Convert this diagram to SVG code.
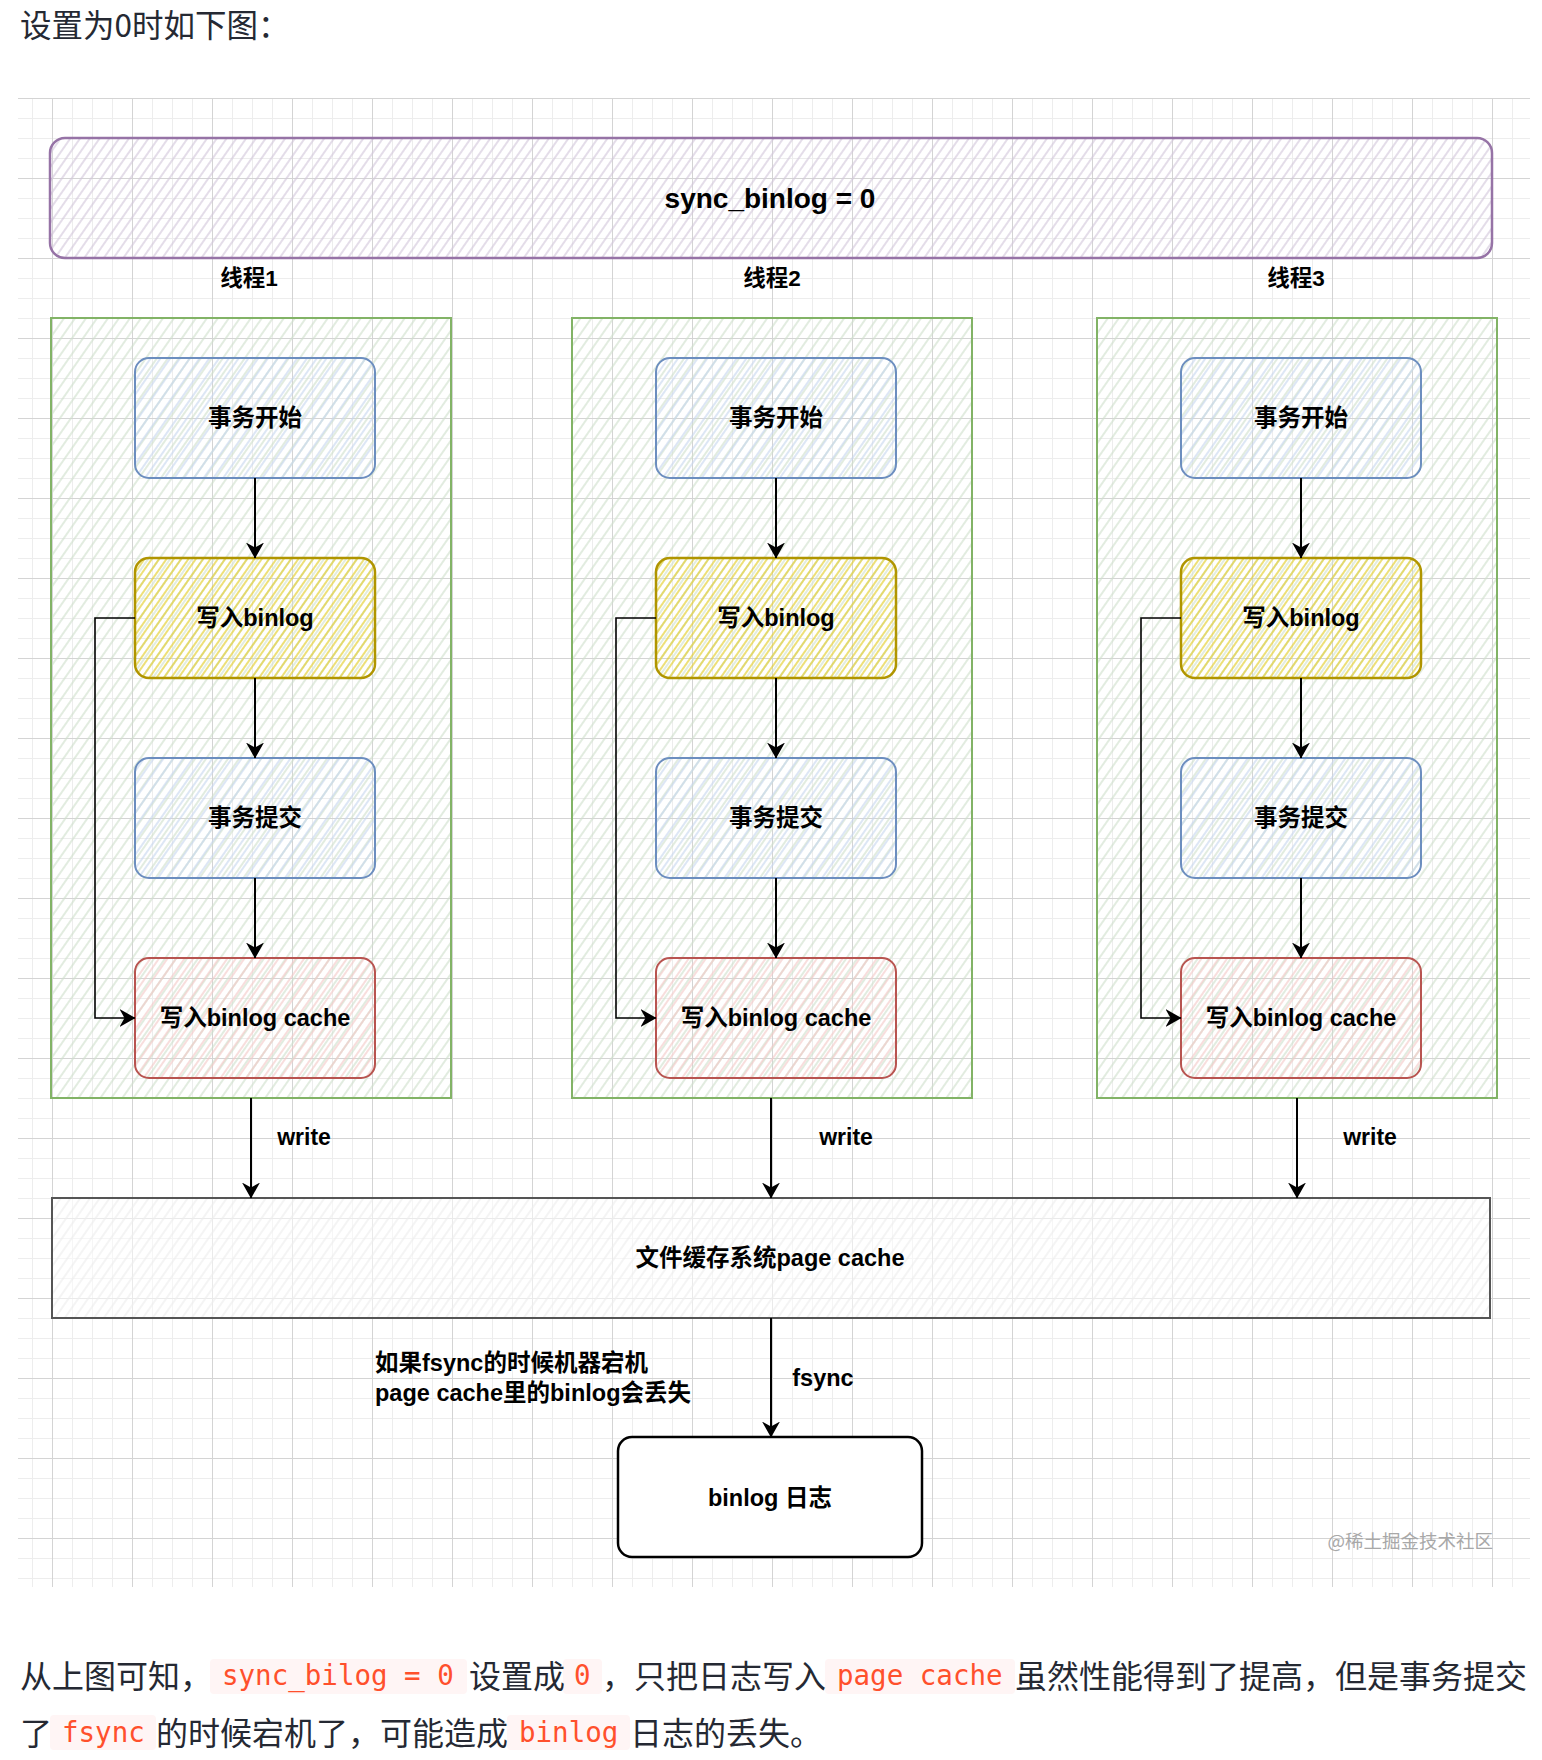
<svg xmlns="http://www.w3.org/2000/svg" width="1542" height="1760" viewBox="0 0 1542 1760">
<defs>
<style>
.body{font-family:"Noto Sans CJK SC","Noto Sans",sans-serif;font-size:32px;fill:#252933}
.code{font-family:"DejaVu Sans Mono","Liberation Mono",monospace;font-size:27.5px;fill:#ff502c}
.codebg{fill:#fff5f5}
.lbl{font-family:"Liberation Sans","Noto Sans CJK SC",sans-serif;font-weight:bold;font-size:23.5px;fill:#000}
.mid{text-anchor:middle}
.box{stroke-width:2}
.conn{fill:none;stroke:#000;stroke-width:2}
.loop{fill:none;stroke:#000;stroke-width:1.6}
</style>
<pattern id="gMinor" patternUnits="userSpaceOnUse" x="12" y="18" width="20" height="20">
<path d="M0.5 0V20M0 0.5H20" stroke="#ededed" stroke-width="1" fill="none"/>
</pattern>
<pattern id="gMajor" patternUnits="userSpaceOnUse" x="52" y="98" width="80" height="80">
<path d="M0.5 0V80M0 0.5H80" stroke="#d4d4d4" stroke-width="1" fill="none"/>
</pattern>
<pattern id="hPurple" patternUnits="userSpaceOnUse" width="8" height="20" patternTransform="rotate(35)">
<path d="M1 0V20" stroke="#d2c6da" stroke-width="1.2"/>
</pattern>
<pattern id="hGreen" patternUnits="userSpaceOnUse" width="9" height="20" patternTransform="rotate(35)">
<path d="M1 0V20" stroke="#cfdfcb" stroke-width="1.2"/>
</pattern>
<pattern id="hBlue" patternUnits="userSpaceOnUse" width="8" height="20" patternTransform="rotate(35)">
<path d="M1 0V20" stroke="#c6d6ee" stroke-width="1.2"/>
</pattern>
<pattern id="hYellow" patternUnits="userSpaceOnUse" width="6" height="20" patternTransform="rotate(35)">
<path d="M1 0V20" stroke="#e3cf30" stroke-width="1.3"/>
</pattern>
<pattern id="hRed" patternUnits="userSpaceOnUse" width="7" height="20" patternTransform="rotate(35)">
<path d="M1 0V20" stroke="#f3c8c6" stroke-width="1.2"/>
</pattern>
<pattern id="hGray" patternUnits="userSpaceOnUse" width="8" height="20" patternTransform="rotate(35)">
<path d="M1 0V20" stroke="#ececec" stroke-width="1.2"/>
</pattern>
<marker id="arr" viewBox="0 0 16 18" refX="15.5" refY="9" markerWidth="16" markerHeight="18" markerUnits="userSpaceOnUse" orient="auto">
<path d="M0,0 L16,9 L0,18 L5,9 Z" fill="#000"/>
</marker>
</defs>

<rect x="0" y="0" width="1542" height="1760" fill="#fff"/>

<g id="page-title">
<text class="body" x="20" y="37" style="font-size:31.5px">设置为0时如下图：</text>
</g>

<g id="grid">
<rect x="18" y="98" width="1512" height="1489" fill="url(#gMinor)"/>
<rect x="18" y="98" width="1512" height="1489" fill="url(#gMajor)"/>
</g>

<g id="sync-binlog">
<rect x="50" y="138" width="1442" height="120" rx="15" fill="url(#hPurple)" stroke="#9673a6" stroke-width="2.5"/>
<text class="lbl mid" x="770" y="208" style="font-size:28px">sync_binlog = 0</text>
</g>

<g id="thread-labels">
<text class="lbl mid" x="249" y="286" style="font-size:22.5px">线程1</text>
<text class="lbl mid" x="772" y="286" style="font-size:22.5px">线程2</text>
<text class="lbl mid" x="1296" y="286" style="font-size:22.5px">线程3</text>
</g>

<g id="thread1">
<rect x="51" y="318" width="400" height="780" fill="url(#hGreen)" stroke="#82b366" class="box"/>
</g>
<g id="thread2">
<rect x="572" y="318" width="400" height="780" fill="url(#hGreen)" stroke="#82b366" class="box"/>
</g>
<g id="thread3">
<rect x="1097" y="318" width="400" height="780" fill="url(#hGreen)" stroke="#82b366" class="box"/>
</g>

<g id="t1-begin"><rect x="135" y="358" width="240" height="120" rx="14" fill="url(#hBlue)" stroke="#6c8ebf" class="box"/><text class="lbl mid" x="255" y="426">事务开始</text></g>
<g id="t1-binlog"><rect x="135" y="558" width="240" height="120" rx="14" fill="url(#hYellow)" stroke="#b09500" stroke-width="2.5"/><text class="lbl mid" x="255" y="626">写入binlog</text></g>
<g id="t1-commit"><rect x="135" y="758" width="240" height="120" rx="14" fill="url(#hBlue)" stroke="#6c8ebf" class="box"/><text class="lbl mid" x="255" y="826">事务提交</text></g>
<g id="t1-cache"><rect x="135" y="958" width="240" height="120" rx="14" fill="url(#hRed)" stroke="#b85450" class="box"/><text class="lbl mid" x="255" y="1026">写入binlog cache</text></g>

<g id="t2-begin"><rect x="656" y="358" width="240" height="120" rx="14" fill="url(#hBlue)" stroke="#6c8ebf" class="box"/><text class="lbl mid" x="776" y="426">事务开始</text></g>
<g id="t2-binlog"><rect x="656" y="558" width="240" height="120" rx="14" fill="url(#hYellow)" stroke="#b09500" stroke-width="2.5"/><text class="lbl mid" x="776" y="626">写入binlog</text></g>
<g id="t2-commit"><rect x="656" y="758" width="240" height="120" rx="14" fill="url(#hBlue)" stroke="#6c8ebf" class="box"/><text class="lbl mid" x="776" y="826">事务提交</text></g>
<g id="t2-cache"><rect x="656" y="958" width="240" height="120" rx="14" fill="url(#hRed)" stroke="#b85450" class="box"/><text class="lbl mid" x="776" y="1026">写入binlog cache</text></g>

<g id="t3-begin"><rect x="1181" y="358" width="240" height="120" rx="14" fill="url(#hBlue)" stroke="#6c8ebf" class="box"/><text class="lbl mid" x="1301" y="426">事务开始</text></g>
<g id="t3-binlog"><rect x="1181" y="558" width="240" height="120" rx="14" fill="url(#hYellow)" stroke="#b09500" stroke-width="2.5"/><text class="lbl mid" x="1301" y="626">写入binlog</text></g>
<g id="t3-commit"><rect x="1181" y="758" width="240" height="120" rx="14" fill="url(#hBlue)" stroke="#6c8ebf" class="box"/><text class="lbl mid" x="1301" y="826">事务提交</text></g>
<g id="t3-cache"><rect x="1181" y="958" width="240" height="120" rx="14" fill="url(#hRed)" stroke="#b85450" class="box"/><text class="lbl mid" x="1301" y="1026">写入binlog cache</text></g>

<g id="page-cache">
<rect x="52" y="1198" width="1438" height="120" fill="#fff" fill-opacity="0.5"/>
<rect x="52" y="1198" width="1438" height="120" fill="url(#hGray)" stroke="#555" stroke-width="2"/>
<text class="lbl mid" x="770" y="1266">文件缓存系统page cache</text>
</g>

<g id="binlog-log">
<rect x="618" y="1437" width="304" height="120" rx="14" fill="#fff" stroke="#000" stroke-width="2.5"/>
<text class="lbl mid" x="770" y="1506">binlog 日志</text>
</g>

<g id="note">
<text class="lbl" x="375" y="1371">如果fsync的时候机器宕机</text>
<text class="lbl" x="375" y="1401">page cache里的binlog会丢失</text>
</g>

<g id="connectors">
<path class="conn" d="M255 478V558" marker-end="url(#arr)"/>
<path class="conn" d="M255 678V758" marker-end="url(#arr)"/>
<path class="conn" d="M255 878V958" marker-end="url(#arr)"/>
<path class="loop" d="M135 618H95V1018H135" marker-end="url(#arr)"/>
<path class="conn" d="M776 478V558" marker-end="url(#arr)"/>
<path class="conn" d="M776 678V758" marker-end="url(#arr)"/>
<path class="conn" d="M776 878V958" marker-end="url(#arr)"/>
<path class="loop" d="M656 618H616V1018H656" marker-end="url(#arr)"/>
<path class="conn" d="M1301 478V558" marker-end="url(#arr)"/>
<path class="conn" d="M1301 678V758" marker-end="url(#arr)"/>
<path class="conn" d="M1301 878V958" marker-end="url(#arr)"/>
<path class="loop" d="M1181 618H1141V1018H1181" marker-end="url(#arr)"/>
<path class="conn" d="M251 1098V1198" marker-end="url(#arr)"/>
<path class="conn" d="M771 1098V1198" marker-end="url(#arr)"/>
<path class="conn" d="M1297 1098V1198" marker-end="url(#arr)"/>
<path class="conn" d="M771 1318V1437" marker-end="url(#arr)"/>
<text class="lbl mid" x="304" y="1145" style="font-size:23px">write</text>
<text class="lbl mid" x="846" y="1145" style="font-size:23px">write</text>
<text class="lbl mid" x="1370" y="1145" style="font-size:23px">write</text>
<text class="lbl mid" x="823" y="1386">fsync</text>
</g>

<g id="watermark">
<text x="1493" y="1548" text-anchor="end" style="font-family:'Noto Sans CJK SC',sans-serif;font-size:18.5px;fill:#a8a8a8">@稀土掘金技术社区</text>
</g>

<g id="paragraph">
<rect class="codebg" x="210" y="1659" width="257" height="35" rx="4"/>
<rect class="codebg" x="563" y="1659" width="39" height="35" rx="4"/>
<rect class="codebg" x="825" y="1659" width="190" height="35" rx="4"/>
<rect class="codebg" x="50" y="1715" width="106" height="35" rx="4"/>
<rect class="codebg" x="507" y="1715" width="123" height="35" rx="4"/>
<text class="body" x="20" y="1688">从上图可知，</text>
<text class="code" x="222" y="1685">sync_bilog = 0</text>
<text class="body" x="469" y="1688">设置成</text>
<text class="code" x="574" y="1685">0</text>
<text class="body" x="602" y="1688">，只把日志写入</text>
<text class="code" x="837" y="1685">page cache</text>
<text class="body" x="1015" y="1688">虽然性能得到了提高，但是事务提交</text>
<text class="body" x="20" y="1745">了</text>
<text class="code" x="62" y="1742">fsync</text>
<text class="body" x="156" y="1745">的时候宕机了，可能造成</text>
<text class="code" x="519" y="1742">binlog</text>
<text class="body" x="630" y="1745">日志的丢失。</text>
</g>
</svg>
